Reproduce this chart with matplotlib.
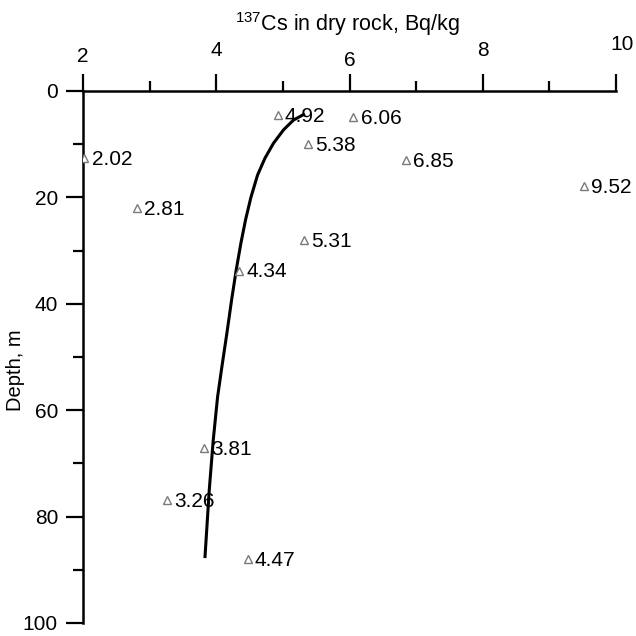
import numpy as np
import matplotlib
matplotlib.use("Agg")
import matplotlib.pyplot as plt
from matplotlib.ticker import MultipleLocator
from matplotlib.transforms import ScaledTranslation

plt.rcParams['font.family'] = ['Liberation Sans', 'DejaVu Sans']
plt.rcParams['mathtext.fontset'] = 'custom'
plt.rcParams['mathtext.rm'] = 'Liberation Sans'

# measured 137Cs activity and sampling depth
activity = [4.92, 6.06, 2.02, 5.38, 6.85, 9.52, 2.81, 5.31, 4.34, 3.81, 3.26, 4.47]
depth = [4.5, 4.9, 12.6, 10.0, 13.0, 17.9, 22.0, 28.0, 33.8, 67.1, 76.9, 88.0]

# trend line through the profile
trend_x = [5.33, 5.16, 5.01, 4.86, 4.73, 4.62, 4.52, 4.44, 4.37, 4.30,
           4.23, 4.16, 4.085, 4.02, 3.955, 3.895, 3.83]
trend_d = [4.3, 5.45, 7.3, 9.8, 12.65, 15.8, 20.0, 24.2, 28.6, 33.6,
           39.3, 45.5, 51.8, 57.5, 65.6, 75.0, 87.8]

xticks = [2, 4, 6, 8, 10]
# small shifts of the top tick labels (points)
xtick_dx = [0, 0, 0, 0, 4.3]
xtick_dy = [-4.3, 0, -7.2, 0, 4.3]

fig = plt.figure(figsize=(6.36, 6.36), dpi=100)
ax = fig.add_axes([83/636, 1 - 623/636, (616 - 83)/636, (623 - 91)/636])

ax.plot(trend_x, trend_d, color='black', lw=2.2, solid_capstyle='butt',
        solid_joinstyle='round', zorder=2)
ax.plot(activity, depth, linestyle='none', marker='^', markersize=6,
        markerfacecolor='white', markeredgecolor='#7a7a7a', markeredgewidth=1.0, zorder=3)
for x, d in zip(activity, depth):
    ax.text(x + 0.11, d + 0.2, f'{x:.2f}', fontsize=15, va='center', ha='left', zorder=4)

ax.set_xlim(2, 10)
ax.set_ylim(100, 0)

ax.xaxis.tick_top()
ax.xaxis.set_label_position('top')
ax.set_xticks(xticks)
ax.xaxis.set_minor_locator(MultipleLocator(1))
ax.yaxis.set_major_locator(MultipleLocator(20))
ax.yaxis.set_minor_locator(MultipleLocator(10))

ax.spines['right'].set_visible(False)
ax.spines['bottom'].set_visible(False)
for s in ('left', 'top'):
    ax.spines[s].set_linewidth(1.8)

ax.tick_params(which='major', direction='out', length=12, width=1.6, labelsize=15)
ax.tick_params(which='minor', direction='out', length=7, width=1.6)
ax.tick_params(axis='y', which='major', pad=6)
ax.tick_params(axis='x', which='major', pad=10.5)

ax.set_xlabel(r'$^{137}$Cs in dry rock, Bq/kg', fontsize=15.5)
ax.xaxis.set_label_coords(0.497, 1.113)
ax.set_ylabel('Depth, m', fontsize=14.5)
ax.yaxis.set_label_coords(-0.109, 0.476)

for lab, dx, dy in zip(ax.get_xticklabels(), xtick_dx, xtick_dy):
    lab.set_transform(lab.get_transform() + ScaledTranslation(dx / 72, dy / 72, fig.dpi_scale_trans))

fig.savefig('out.png', dpi=100)
